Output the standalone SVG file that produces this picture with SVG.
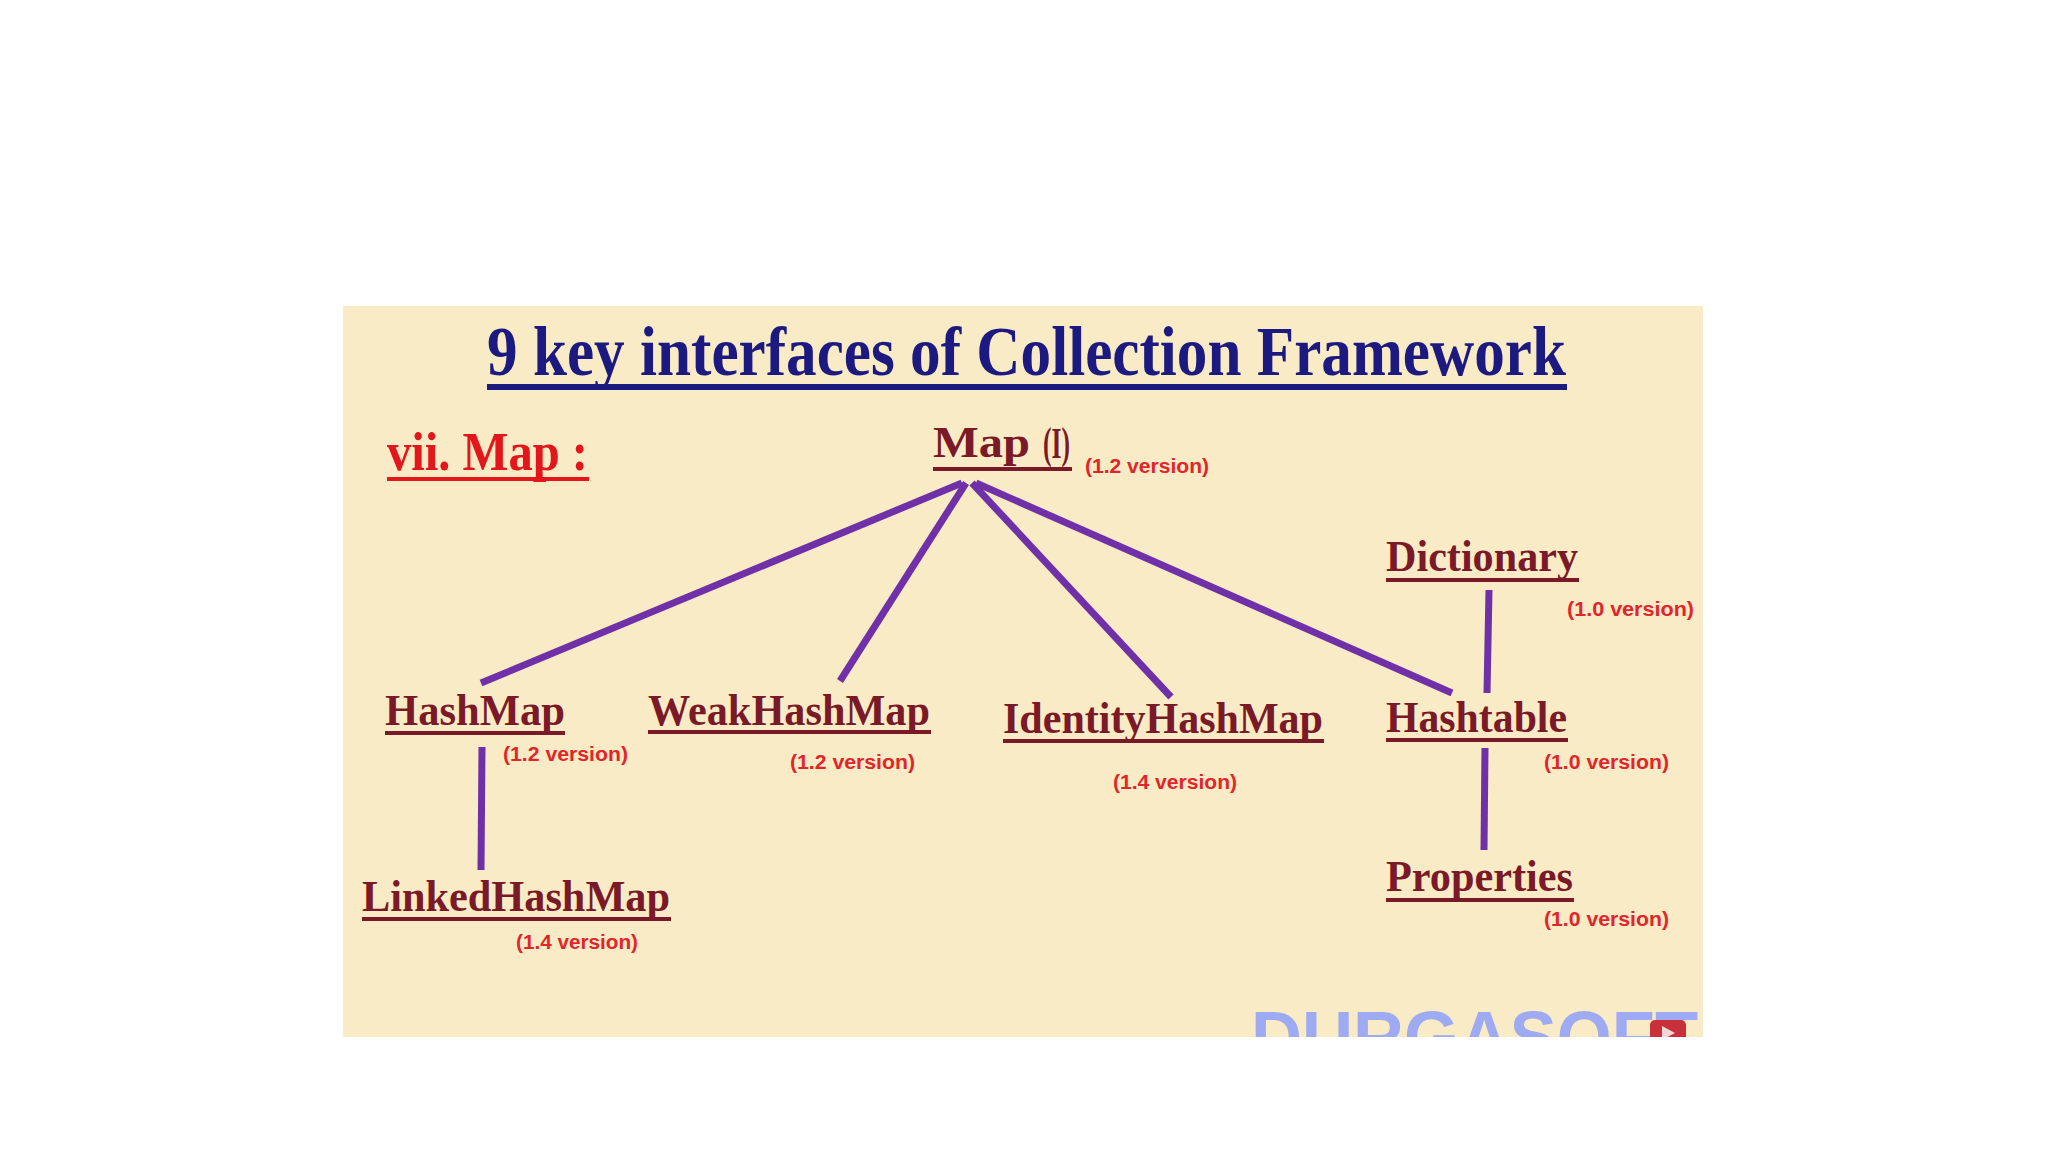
<svg xmlns="http://www.w3.org/2000/svg" width="2048" height="1152" viewBox="0 0 2048 1152">
<defs>
<style>
.title{font-family:"Liberation Serif","Times New Roman",serif;font-weight:bold;fill:#1c1a80}
.sec{font-family:"Liberation Serif","Times New Roman",serif;font-weight:bold;fill:#e3161b}
.node{font-family:"Liberation Serif","Times New Roman",serif;font-weight:bold;fill:#7a1a28;font-size:45px}
.ver{font-family:"Liberation Sans",Arial,sans-serif;font-weight:bold;fill:#e0262b;font-size:20px}
.ul{stroke:#7a1a28;stroke-width:4}
.edge{stroke:#7030a8;stroke-width:7;stroke-linecap:butt;fill:none}
.wm{font-family:"Liberation Sans",Arial,sans-serif;font-weight:bold;fill:#9eaaf2;font-size:72px}
</style>
<clipPath id="panelClip"><rect x="343" y="306" width="1360" height="731"/></clipPath>
</defs>
<rect width="2048" height="1152" fill="#ffffff"/>
<rect id="panel" x="343" y="306" width="1360" height="731" fill="#f9ebc5"/>

<g id="title">
<text class="title" x="487" y="375" font-size="70" textLength="1079" lengthAdjust="spacingAndGlyphs">9 key interfaces of Collection Framework</text>
<line x1="487" y1="387" x2="1567" y2="387" stroke="#1c1a80" stroke-width="6"/>
</g>

<g id="section">
<text class="sec" x="387" y="470" font-size="54" textLength="201" lengthAdjust="spacingAndGlyphs">vii. Map :</text>
<line x1="387" y1="479" x2="589" y2="479" stroke="#e3161b" stroke-width="4"/>
</g>

<g id="connectors">
<line class="edge" x1="962" y1="483" x2="481" y2="683"/>
<line class="edge" x1="966" y1="483" x2="840" y2="681"/>
<line class="edge" x1="972" y1="483" x2="1171" y2="697"/>
<line class="edge" x1="976" y1="483" x2="1452" y2="693"/>
<line class="edge" x1="482" y1="747" x2="481" y2="870"/>
<line class="edge" x1="1489" y1="590" x2="1487" y2="693"/>
<line class="edge" x1="1485" y1="748" x2="1484" y2="850"/>
</g>

<g id="node-map">
<text class="node" x="933" y="457" font-size="46" textLength="97" lengthAdjust="spacingAndGlyphs">Map</text>
<text class="node" x="1043" y="458" font-size="20" textLength="27" lengthAdjust="spacingAndGlyphs">(I)</text>
<line class="ul" x1="933" y1="469" x2="1072" y2="469"/>
<text class="ver" x="1085" y="473" textLength="124" lengthAdjust="spacingAndGlyphs">(1.2 version)</text>
</g>

<g id="node-hashmap">
<text class="node" x="385" y="725" textLength="180" lengthAdjust="spacingAndGlyphs">HashMap</text>
<line class="ul" x1="385" y1="733" x2="565" y2="733"/>
<text class="ver" x="503" y="761" textLength="125" lengthAdjust="spacingAndGlyphs">(1.2 version)</text>
</g>

<g id="node-weakhashmap">
<text class="node" x="648" y="725" textLength="282" lengthAdjust="spacingAndGlyphs">WeakHashMap</text>
<line class="ul" x1="648" y1="732" x2="931" y2="732"/>
<text class="ver" x="790" y="769" textLength="125" lengthAdjust="spacingAndGlyphs">(1.2 version)</text>
</g>

<g id="node-identityhashmap">
<text class="node" x="1003" y="733" textLength="320" lengthAdjust="spacingAndGlyphs">IdentityHashMap</text>
<line class="ul" x1="1003" y1="741" x2="1324" y2="741"/>
<text class="ver" x="1113" y="789" textLength="124" lengthAdjust="spacingAndGlyphs">(1.4 version)</text>
</g>

<g id="node-hashtable">
<text class="node" x="1386" y="732" textLength="181" lengthAdjust="spacingAndGlyphs">Hashtable</text>
<line class="ul" x1="1386" y1="740" x2="1568" y2="740"/>
<text class="ver" x="1544" y="769" textLength="125" lengthAdjust="spacingAndGlyphs">(1.0 version)</text>
</g>

<g id="node-dictionary">
<text class="node" x="1386" y="571" textLength="192" lengthAdjust="spacingAndGlyphs">Dictionary</text>
<line class="ul" x1="1386" y1="580" x2="1579" y2="580"/>
<text class="ver" x="1567" y="616" textLength="127" lengthAdjust="spacingAndGlyphs">(1.0 version)</text>
</g>

<g id="node-properties">
<text class="node" x="1386" y="891" textLength="187" lengthAdjust="spacingAndGlyphs">Properties</text>
<line class="ul" x1="1386" y1="900" x2="1574" y2="900"/>
<text class="ver" x="1544" y="926" textLength="125" lengthAdjust="spacingAndGlyphs">(1.0 version)</text>
</g>

<g id="node-linkedhashmap">
<text class="node" x="362" y="911" textLength="308" lengthAdjust="spacingAndGlyphs">LinkedHashMap</text>
<line class="ul" x1="362" y1="919" x2="671" y2="919"/>
<text class="ver" x="516" y="949" textLength="122" lengthAdjust="spacingAndGlyphs">(1.4 version)</text>
</g>

<g id="watermark" clip-path="url(#panelClip)">
<text class="wm" x="1251" y="1062" textLength="447" lengthAdjust="spacingAndGlyphs">DURGASOFT</text>
<rect x="1650" y="1020" width="36" height="26" rx="5" fill="#c8303c"/>
<polygon points="1662,1026 1662,1040 1675,1033" fill="#f4d6d6"/>
</g>
</svg>
